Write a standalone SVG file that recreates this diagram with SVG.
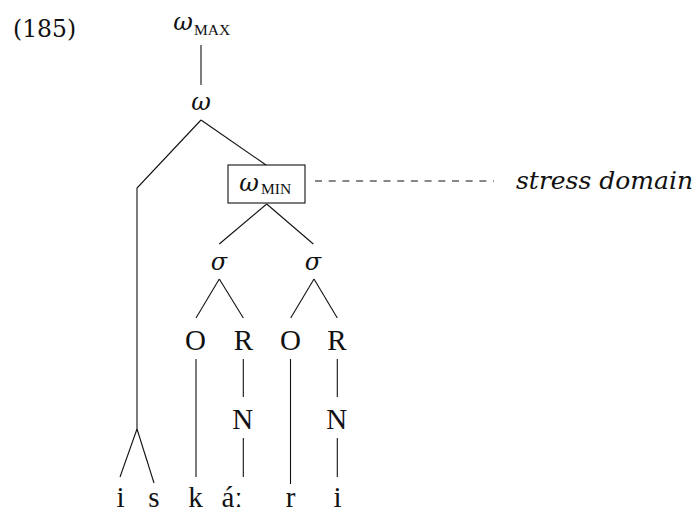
<svg xmlns="http://www.w3.org/2000/svg" width="696" height="508" viewBox="0 0 696 508">
<style>
.ln{stroke:#111;stroke-width:1.1;fill:none}
.cm{font-family:"Liberation Serif","DejaVu Serif",serif;font-size:29px;fill:#111;text-anchor:middle}
.gr{font-family:"DejaVu Serif",serif;font-style:italic;font-size:24px;fill:#111;text-anchor:middle}
.sub{font-family:"Liberation Serif",serif;font-size:15.5px;fill:#111}
.ch{font-family:"DejaVu Serif",serif;fill:#111}
</style>
<rect width="696" height="508" fill="#fff"/>
<text class="ch" x="13" y="36.7" font-size="23.5">(185)</text>
<g id="connectors">
<line class="ln" x1="201" y1="45" x2="201" y2="85"/>
<polyline class="ln" points="201,120 137,188 137,429"/>
<line class="ln" x1="137" y1="429" x2="120" y2="477"/>
<line class="ln" x1="137" y1="429" x2="154" y2="483"/>
<line class="ln" x1="201" y1="120" x2="266" y2="165"/>
<line class="ln" x1="266.7" y1="204" x2="219.3" y2="244"/>
<line class="ln" x1="266.7" y1="204" x2="313.3" y2="244"/>
<line class="ln" x1="219.3" y1="279" x2="196" y2="318"/>
<line class="ln" x1="219.3" y1="279" x2="243.3" y2="318"/>
<line class="ln" x1="314" y1="279" x2="290.7" y2="318"/>
<line class="ln" x1="314" y1="279" x2="337.3" y2="318"/>
<line class="ln" x1="196" y1="359" x2="196" y2="477"/>
<line class="ln" x1="243.3" y1="359" x2="243.3" y2="397"/>
<line class="ln" x1="243.3" y1="438" x2="243.3" y2="477"/>
<line class="ln" x1="290.5" y1="359" x2="290.5" y2="484"/>
<line class="ln" x1="337.3" y1="359" x2="337.3" y2="397"/>
<line class="ln" x1="337.3" y1="438" x2="337.3" y2="477"/>
<line class="ln" x1="315" y1="181" x2="494" y2="181" stroke-dasharray="7 6.7"/>
</g>
<g id="wmax"><text class="gr" x="183" y="30">ω</text><text class="sub" x="194" y="35">MAX</text></g>
<g id="w"><text class="gr" x="201" y="110">ω</text></g>
<g id="wmin"><rect class="ln" x="228" y="165" width="77" height="38"/><text class="gr" x="249" y="190.7">ω</text><text class="sub" x="261" y="194">MIN</text></g>
<g id="stress"><text class="ch" x="516" y="189" font-size="24" font-style="italic" textLength="177" lengthAdjust="spacingAndGlyphs">stress domain</text></g>
<g id="sigma1"><text class="gr" x="219" y="270">σ</text></g>
<g id="sigma2"><text class="gr" x="313" y="270">σ</text></g>
<g id="o1"><text class="cm" x="195.5" y="350">O</text></g>
<g id="r1"><text class="cm" x="243.5" y="350">R</text></g>
<g id="o2"><text class="cm" x="290.5" y="350">O</text></g>
<g id="r2"><text class="cm" x="337" y="350">R</text></g>
<g id="n1"><text class="cm" x="242.7" y="429">N</text></g>
<g id="n2"><text class="cm" x="336.7" y="429">N</text></g>
<g id="seg-i1"><text class="cm" x="120.5" y="506.7">i</text></g>
<g id="seg-s"><text class="cm" x="154" y="506.7">s</text></g>
<g id="seg-k"><text class="cm" x="195.5" y="506.7">k</text></g>
<g id="seg-a"><text class="cm" x="232" y="506.7" text-anchor="start">áː</text></g>
<g id="seg-r"><text class="cm" x="290.5" y="506.7">r</text></g>
<g id="seg-i2"><text class="cm" x="337.5" y="506.7">i</text></g>
</svg>
